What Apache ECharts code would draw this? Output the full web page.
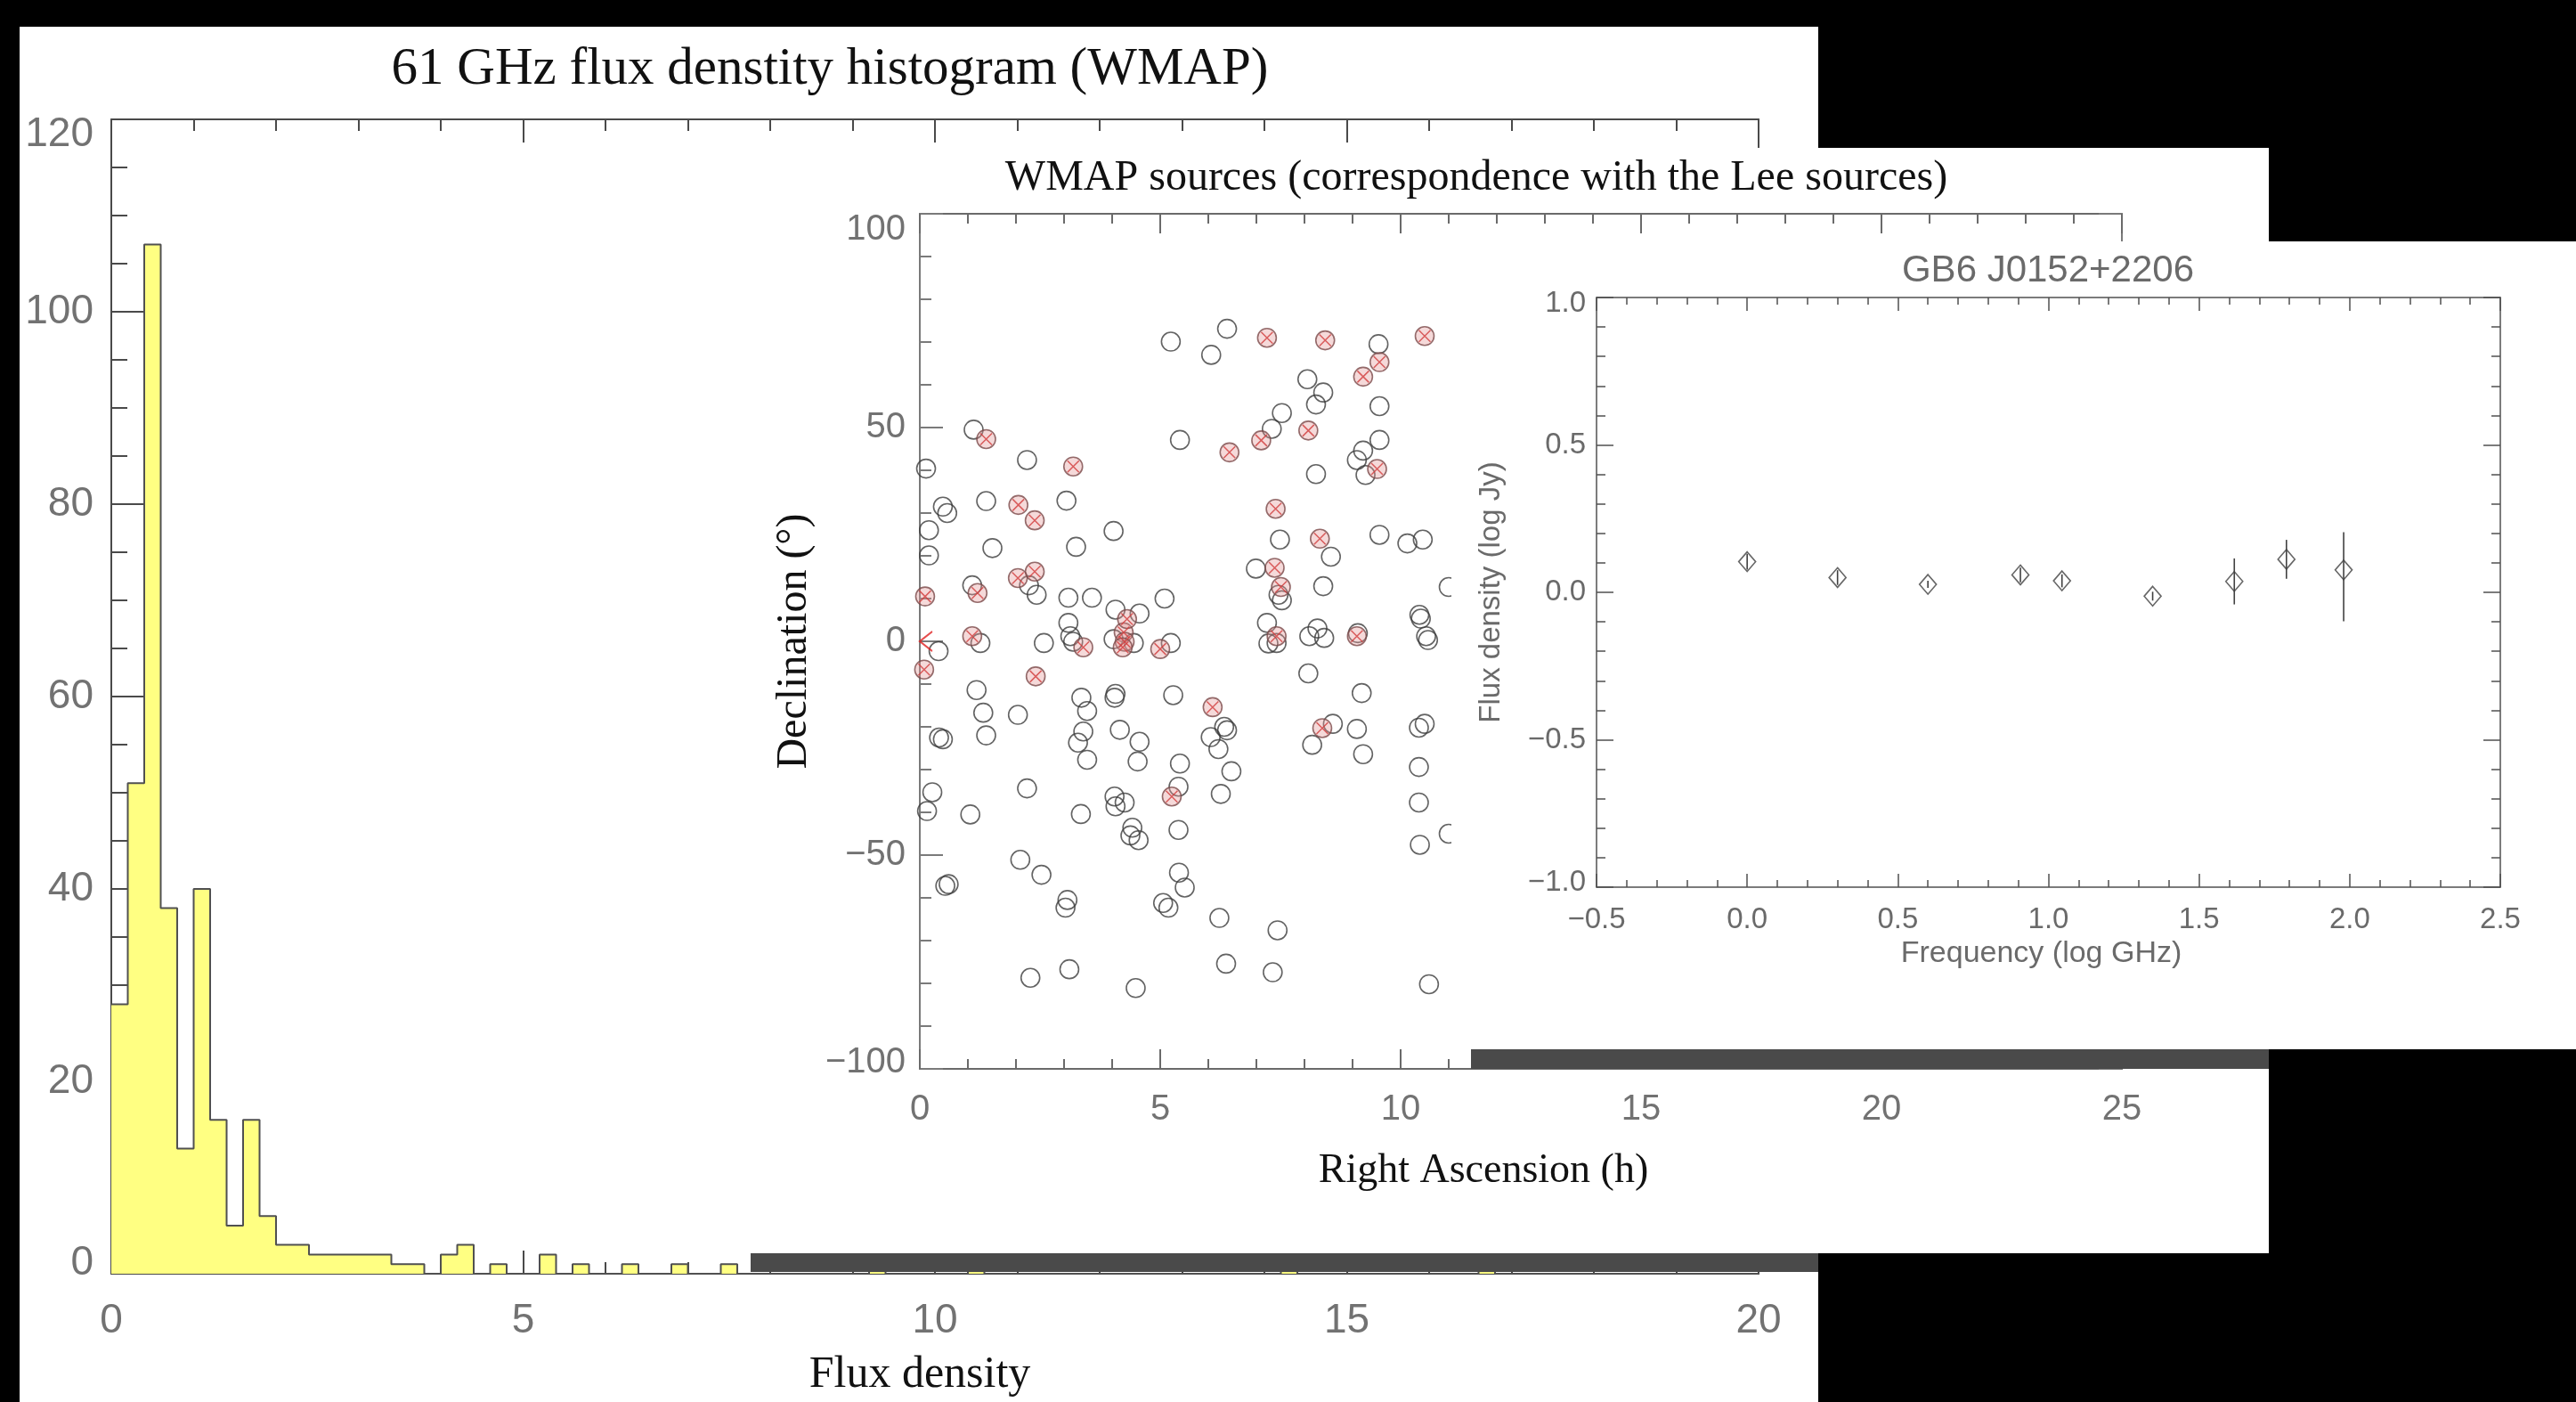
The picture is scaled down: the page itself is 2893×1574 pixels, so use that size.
<!DOCTYPE html>
<html>
<head>
<meta charset="utf-8">
<title>WMAP flux density / sources / spectrum</title>
<script src="https://cdn.jsdelivr.net/npm/echarts@6/dist/echarts.min.js"></script>
<style>
html, body { margin: 0; padding: 0; background: #000; width: 2893px; height: 1574px; overflow: hidden; }
.panel { position: absolute; background: #fff; }
.shadow { position: absolute; background: #4a4a4a; }
</style>
</head>
<body>
<div id="hist" class="panel" style="left:22px;top:30px;width:2020px;height:1544px;z-index:1"></div>
<div class="shadow" style="left:843px;top:1407px;width:1199px;height:21px;z-index:2"></div>
<div id="sky" class="panel" style="left:821px;top:166px;width:1727px;height:1241px;z-index:3"></div>
<div class="shadow" style="left:1652px;top:1178px;width:896px;height:22px;z-index:4"></div>
<div id="sed" class="panel" style="left:1630px;top:271px;width:1263px;height:907px;z-index:5"></div>

<script>
// ---- histogram: 61 GHz flux density, bins of 0.2 (only non-empty bins listed)
const binWidth = 0.2;
const histBinStart = [0, 0.2, 0.4, 0.6, 0.8, 1.0, 1.2, 1.4, 1.6, 1.8, 2.0, 2.2, 2.4, 2.6, 2.8, 3.0, 3.2, 3.4, 3.6,
    4.0, 4.2, 4.6, 5.2, 5.6, 6.2, 6.8, 7.4, 9.2, 10.4, 14.2, 16.6];
const histCount = [28, 51, 107, 38, 13, 40, 16, 5, 16, 6, 3, 3, 2, 2, 2, 2, 2, 1, 1,
    2, 3, 1, 2, 1, 1, 1, 1, 1, 1, 1, 1];
const fluxTicks = [0, 5, 10, 15, 20];
const countTicks = [0, 20, 40, 60, 80, 100, 120];

// ---- WMAP sources, RA (h) / Dec (deg)
const raPlain = [5.22, 6.39, 6.06, 9.54, 8.06, 8.39, 8.24, 9.56, 7.53, 7.32, 1.12, 5.41, 9.56, 9.22, 9.09, 9.27, 8.24,
    2.23, 0.13, 1.38, 0.48, 0.57, 3.05, 0.19, 4.03, 1.51, 3.25, 0.19, 7.49, 9.56, 10.14, 10.46, 8.55, 6.99, 8.39,
    1.09, 2.27, 2.43, 3.09, 3.58, 5.09, 7.46, 7.53, 4.07, 4.57, 3.09, 3.13, 3.19, 2.58, 4.03, 4.45, 5.22, 1.26, 0.39,
    7.22, 7.25, 7.42, 8.10, 8.27, 8.41, 10.39, 10.42, 10.53, 10.57, 9.11, 11.0, 1.18, 1.32, 2.04, 1.38, 0.40, 0.48,
    3.36, 4.07, 4.05, 3.48, 5.27, 3.40, 3.29, 4.16, 4.57, 3.48, 4.53, 5.41, 6.33, 6.39, 6.05, 6.21, 6.48, 8.08, 9.19,
    8.59, 8.16, 9.09, 9.22, 10.38, 10.50, 10.38, 0.26, 0.15, 2.23, 1.05, 3.35, 4.05, 4.26, 4.07, 5.38, 5.38, 4.42,
    4.38, 4.55, 6.26, 10.38, 10.40, 11.0, 2.09, 2.53, 0.53, 0.60, 3.07, 3.03, 5.06, 5.17, 5.39, 5.51, 6.23, 7.44,
    6.37, 7.34, 3.11, 2.30, 4.49, 10.59];
const decPlain = [70.1, 73.1, 67.0, 69.5, 61.3, 58.2, 55.4, 55.0, 53.4, 49.7, 49.5, 47.1, 47.1, 44.6, 42.4, 38.9, 39.1,
    42.4, 40.4, 32.8, 31.5, 30.0, 32.9, 26.0, 25.8, 21.8, 22.1, 20.1, 23.8, 24.9, 22.9, 23.8, 19.8, 17.0, 12.9,
    13.1, 13.1, 10.9, 10.2, 10.2, 10.0, 10.9, 9.6, 7.4, 6.5, 4.3, 1.2, -0.1, -0.4, 0.5, -0.4, -0.4, -0.4, -2.3,
    4.3, -0.5, -0.4, 1.2, 3.0, 0.8, 6.2, 5.3, 1.2, 0.3, 1.9, 12.7, -11.4, -16.7, -17.2, -22.0, -22.5, -22.9,
    -13.2, -12.3, -13.2, -16.3, -12.6, -21.1, -23.7, -20.7, -23.5, -27.7, -28.1, -28.6, -20.0, -20.8, -22.4, -25.2, -30.4, -7.5, -12.1,
    -19.3, -24.2, -20.5, -26.4, -20.2, -19.3, -29.4, -35.3, -39.7, -34.4, -40.5, -40.4, -36.3, -37.7, -38.6, -34.0, -44.1, -43.6,
    -45.4, -46.5, -35.7, -37.7, -47.6, -45.0, -51.1, -54.6, -57.2, -56.8, -60.5, -62.3, -61.2, -62.3, -54.1, -57.6, -64.7, -67.6,
    -75.4, -77.4, -76.7, -78.7, -81.1, -80.2];
// sources with a Lee counterpart
const raLee = [7.22, 8.43, 10.50, 9.56, 9.22, 1.38, 6.44, 7.10, 8.08, 3.19, 9.51, 2.05, 2.39, 7.40, 8.32, 2.39, 2.04,
    1.20, 0.11, 7.38, 7.51, 1.09, 3.40, 4.24, 4.26, 4.31, 4.22, 5.00, 7.42, 9.09, 0.09, 2.41, 6.09, 8.37, 5.24];
const decLee = [71.0, 70.4, 71.4, 65.3, 61.9, 47.3, 44.2, 47.0, 49.3, 40.9, 40.3, 31.9, 28.3, 31.0, 24.0, 16.3, 14.8,
    11.3, 10.5, 17.2, 12.7, 1.2, -1.4, 2.1, -0.1, 5.2, -1.4, -1.8, 1.2, 1.2, -6.6, -8.2, -15.4, -20.3, -36.3];
const arrowPoint = [[0, 0]];
const raTicks = [0, 5, 10, 15, 20, 25];
const decTicks = [-100, -50, 0, 50, 100];

// ---- GB6 J0152+2206 spectrum
const freqLog = [0.0, 0.30, 0.60, 0.907, 1.045, 1.346, 1.617, 1.790, 1.980];
const fluxLog = [0.104, 0.050, 0.027, 0.059, 0.039, -0.013, 0.037, 0.112, 0.076];
const errLow = [0.027, 0.025, 0.012, 0.025, 0.022, 0.015, 0.078, 0.066, 0.174];
const errHigh = [0.027, 0.025, 0.012, 0.025, 0.022, 0.015, 0.078, 0.066, 0.128];
const freqTicks = [-0.5, 0.0, 0.5, 1.0, 1.5, 2.0, 2.5];
const fluxTicks3 = [-1.0, -0.5, 0.0, 0.5, 1.0];

const SERIF = 'Liberation Serif';
const SANS = 'Liberation Sans';
const minus = s => String(s).replace('-', '\u2212');

// a value axis plus its mirror (top/right), IDL-style box with inward ticks
function boxAxis(ticks, pos, mirrorPos, st, extra) {
    const lo = ticks[0], hi = ticks[ticks.length - 1];
    const fmt = st.fmt || (v => String(v));
    const label = { margin: st.margin, color: st.label, fontSize: st.font, fontFamily: SANS, formatter: fmt };
    if (st.endShift) {
        // end labels of vertical axes sit a bit inside the box
        const tok = { color: st.label, fontSize: st.font, fontFamily: SANS };
        label.formatter = v => v === hi ? '{hi|' + fmt(v) + '}' : v === lo ? '{lo|' + fmt(v) + '}' : fmt(v);
        label.rich = {
            hi: Object.assign({ padding: [2 * st.endShift[0], 0, 0, 0] }, tok),
            lo: Object.assign({ padding: [0, 0, 2 * st.endShift[1], 0] }, tok)
        };
    }
    const base = {
        type: 'value',
        min: lo,
        max: hi,
        interval: ticks[1] - ticks[0],
        splitLine: { show: false },
        axisLine: { onZero: false, lineStyle: { color: st.line, width: st.width } },
        axisTick: { inside: true, length: st.major, lineStyle: { color: st.line, width: st.width } },
        minorTick: { show: true, splitNumber: st.split, length: st.minor, lineStyle: { color: st.line, width: st.width } }
    };
    const main = Object.assign({}, base, { position: pos, axisLabel: label }, extra);
    const mirror = Object.assign({}, base, { position: mirrorPos, axisLabel: { show: false } });
    return [main, mirror];
}

// ================= panel 1: histogram
const counts = new Array(Math.round(20 / binWidth)).fill(0);
histBinStart.forEach((x, i) => { counts[Math.round(x / binWidth)] = histCount[i]; });
const histLine = counts.map((c, i) => [i * binWidth, c]);
histLine.push([20, 0]);

const histChart = echarts.init(document.getElementById('hist'));
histChart.setOption({
    animation: false,
    graphic: [{
        type: 'text', x: 910, y: 48,
        style: { text: '61 GHz flux denstity histogram (WMAP)', font: '59px "' + SERIF + '"', fill: '#111',
            textAlign: 'center', textVerticalAlign: 'middle' }
    }],
    grid: { left: 103, top: 104, width: 1850, height: 1315 },
    xAxis: boxAxis(fluxTicks, 'bottom', 'top',
        { line: '#4a4a4a', width: 2, major: 26, minor: 13, split: 5, margin: 30, label: '#727272', font: 46 },
        { name: 'Flux density', nameLocation: 'middle', nameGap: 89,
          nameTextStyle: { fontFamily: SERIF, fontSize: 50, color: '#111', padding: [0, 34, 0, 0] } }),
    yAxis: boxAxis(countTicks, 'left', 'right',
        { line: '#4a4a4a', width: 2, major: 37, minor: 18, split: 4, margin: 20, label: '#727272', font: 46,
          endShift: [17, 12] }),
    series: [{
        type: 'line',
        step: 'end',
        data: histLine,
        symbol: 'none',
        lineStyle: { color: '#505050', width: 2 },
        areaStyle: { color: '#ffff82', opacity: 1 }
    }]
});

// ================= panel 2: WMAP sources on the sky
const skyChart = echarts.init(document.getElementById('sky'));
skyChart.setOption({
    animation: false,
    graphic: [{
        type: 'text', x: 837, y: 34,
        style: { text: 'WMAP sources (correspondence with the Lee sources)', font: '48px "' + SERIF + '"', fill: '#111',
            textAlign: 'center', textVerticalAlign: 'middle' }
    }],
    grid: { left: 212, top: 74, width: 1350, height: 960 },
    xAxis: boxAxis(raTicks, 'bottom', 'top',
        { line: '#6a6a6a', width: 2, major: 22, minor: 11, split: 5, margin: 26, label: '#727272', font: 40 },
        { name: 'Right Ascension (h)', nameLocation: 'middle', nameGap: 92,
          nameTextStyle: { fontFamily: SERIF, fontSize: 46, color: '#111', padding: [0, 84, 0, 0] } }),
    yAxis: boxAxis(decTicks, 'left', 'right',
        { line: '#7a7a7a', width: 2, major: 26, minor: 13, split: 5, margin: 16, label: '#727272', font: 40,
          fmt: minus, endShift: [18, 7] },
        { name: 'Declination (\u00b0)', nameLocation: 'middle', nameGap: 103,
          nameTextStyle: { fontFamily: SERIF, fontSize: 48, color: '#111' } }),
    series: [
        {
            type: 'scatter', clip: false,
            data: raPlain.map((r, i) => [r, decPlain[i]]),
            symbol: 'circle', symbolSize: 21,
            itemStyle: { color: 'transparent', borderColor: '#3c3c3c', borderWidth: 1.6 }
        },
        {
            type: 'scatter', clip: false,
            data: raLee.map((r, i) => [r, decLee[i]]),
            symbol: 'circle', symbolSize: 21,
            itemStyle: { color: 'rgba(226,150,150,0.45)', borderColor: '#7a4848', borderWidth: 1.6 }
        },
        {
            type: 'scatter', clip: false,
            data: raLee.map((r, i) => [r, decLee[i]]),
            symbol: 'path://M0,0 L10,10 M10,0 L0,10', symbolSize: 13,
            itemStyle: { color: 'transparent', borderColor: '#d23c3c', borderWidth: 1.5 }
        },
        {
            type: 'scatter', clip: false,
            data: arrowPoint,
            symbol: 'path://M10,0 L0,10 L10,20', symbolSize: [14, 22], symbolOffset: [7, 0],
            itemStyle: { color: 'transparent', borderColor: '#e02020', borderWidth: 2 }
        }
    ]
});

// ================= panel 3: spectrum of GB6 J0152+2206
const fmt1 = v => minus(v.toFixed(1));
const sedChart = echarts.init(document.getElementById('sed'));
sedChart.setOption({
    animation: false,
    graphic: [{
        type: 'text', x: 670, y: 33,
        style: { text: 'GB6 J0152+2206', font: '42px "' + SANS + '"', fill: '#6a6a6a',
            textAlign: 'center', textVerticalAlign: 'middle' }
    }],
    grid: { left: 163, top: 63, width: 1015, height: 662 },
    xAxis: boxAxis(freqTicks, 'bottom', 'top',
        { line: '#505050', width: 1.5, major: 15, minor: 8, split: 5, margin: 20, label: '#6a6a6a', font: 33, fmt: fmt1 },
        { name: 'Frequency (log GHz)', nameLocation: 'middle', nameGap: 56,
          nameTextStyle: { fontFamily: SANS, fontSize: 34, color: '#6a6a6a', padding: [0, 16, 0, 0] } }),
    yAxis: boxAxis(fluxTicks3, 'left', 'right',
        { line: '#505050', width: 1.5, major: 19, minor: 10, split: 5, margin: 12, label: '#6a6a6a', font: 33,
          fmt: fmt1, endShift: [7, 5] },
        { name: 'Flux density (log Jy)', nameLocation: 'middle', nameGap: 102,
          nameTextStyle: { fontFamily: SANS, fontSize: 33, color: '#6a6a6a' } }),
    series: [
        {
            type: 'custom',
            data: freqLog.map((f, i) => [f, fluxLog[i] - errLow[i], fluxLog[i] + errHigh[i]]),
            encode: { x: 0, y: [1, 2] },
            renderItem: (params, api) => {
                const lo = api.coord([api.value(0), api.value(1)]);
                const hi = api.coord([api.value(0), api.value(2)]);
                return { type: 'line', shape: { x1: lo[0], y1: lo[1], x2: hi[0], y2: hi[1] },
                    style: { stroke: '#404040', lineWidth: 1.6 } };
            }
        },
        {
            type: 'scatter', clip: false,
            data: freqLog.map((f, i) => [f, fluxLog[i]]),
            symbol: 'diamond', symbolSize: [19, 22],
            itemStyle: { color: 'transparent', borderColor: '#404040', borderWidth: 1.6 }
        }
    ]
});
</script>
</body>
</html>
